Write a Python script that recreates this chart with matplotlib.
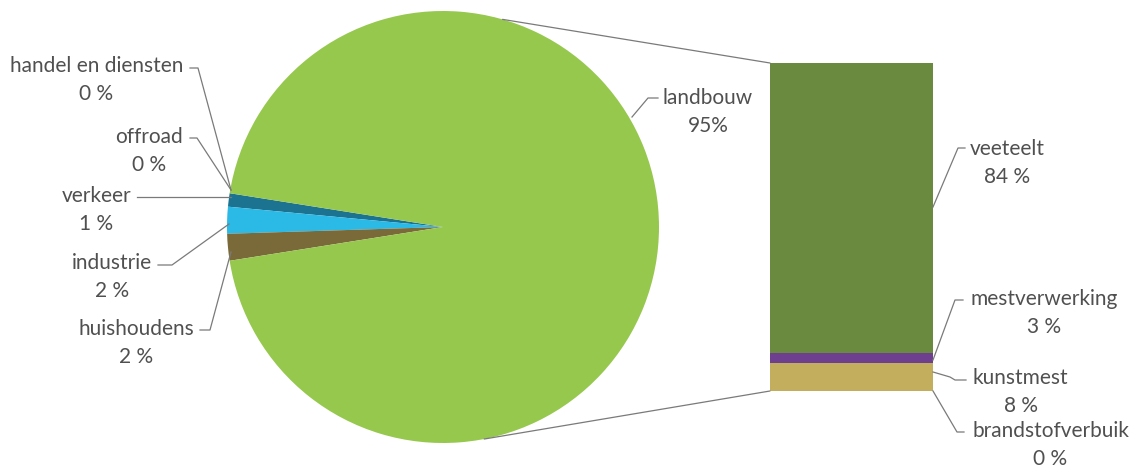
import matplotlib.pyplot as plt
from matplotlib.patches import ConnectionPatch
import numpy as np

plt.rcParams['font.family'] = ['Lato', 'DejaVu Sans']

# pie: share of each sector (%), drawn counterclockwise from the left
sectors = ['handel en diensten', 'offroad', 'verkeer', 'industrie', 'huishoudens', 'landbouw']
sector_pct = [0, 0, 1, 2, 2, 95]
sector_colors = ['#1c7391', '#1c7391', '#1c7391', '#2bb9e6', '#7a6a3a', '#96c84d']

# bar: breakdown of landbouw, bottom to top
farm_parts = ['brandstofverbuik', 'kunstmest', 'mestverwerking', 'veeteelt']
farm_pct = [0, 8, 3, 84]
farm_colors = ['#7a6a35', '#c2ae5d', '#6e3f8e', '#6a8a40']

W, H = 1135, 470
fig = plt.figure(figsize=(W / 100, H / 100), dpi=100)

# pie axes, 432 px square centred at (443, 227)
ax_pie = fig.add_axes([227 / W, 27 / H, 432 / W, 432 / H])
small = sum(sector_pct[:-1])
ax_pie.pie(sector_pct, colors=sector_colors, startangle=180 - small * 3.6 / 2,
           counterclock=True, wedgeprops=dict(linewidth=0))
ax_pie.set_xlim(-1, 1)
ax_pie.set_ylim(-1, 1)
ax_pie.axis('off')

# stacked bar axes
ax_bar = fig.add_axes([770 / W, 79 / H, 163 / W, 328 / H])
bottom = 0
for part, pct, col in zip(farm_parts, farm_pct, farm_colors):
    if pct == 0:
        ax_bar.bar(0, pct, width=1, bottom=bottom, color=col, edgecolor=col, linewidth=2)
    else:
        ax_bar.bar(0, pct, width=1, bottom=bottom, color=col, linewidth=0)
    bottom += pct
ax_bar.set_xlim(-0.5, 0.5)
ax_bar.set_ylim(0, sum(farm_pct))
ax_bar.axis('off')

# lines from the pie edge to the bar corners
for ang, yb in [(74, sum(farm_pct)), (-79, 0)]:
    a = np.deg2rad(ang)
    con = ConnectionPatch(xyA=(np.cos(a), np.sin(a)), coordsA=ax_pie.transData,
                          xyB=(-0.5, yb), coordsB=ax_bar.transData,
                          color='#7a7a7a', linewidth=0.9)
    fig.add_artist(con)

# overlay in pixel coords for labels and leader lines
ov = fig.add_axes([0, 0, 1, 1], zorder=5)
ov.set_xlim(0, W)
ov.set_ylim(H, 0)
ov.axis('off')
ov.patch.set_alpha(0)

labels = [
    ('handel en diensten', 0, 183, 67, 'right', [(190, 68), (198, 68), (231, 190)]),
    ('offroad', 0, 183, 138, 'right', [(190, 138), (197, 138), (231, 190)]),
    ('verkeer', 1, 131, 197, 'right', [(137, 197), (231, 197)]),
    ('industrie', 2, 152, 264, 'right', [(158, 265), (172, 265), (229, 224)]),
    ('huishoudens', 2, 194, 330, 'right', [(200, 330), (210, 330), (231, 252)]),
    ('landbouw', 95, 663, 99, 'left', [(658, 98), (648, 98), (632, 117)]),
    ('veeteelt', 84, 970, 150, 'left', [(933, 207), (958, 148), (965, 148)]),
    ('mestverwerking', 3, 970, 300, 'left', [(933, 360), (955, 300), (963, 300)]),
    ('kunstmest', 8, 973, 379, 'left', [(933, 372), (950, 377), (955, 380), (966, 380)]),
    ('brandstofverbuik', 0, 972, 432, 'left', [(933, 391), (957, 432), (964, 432)]),
]
for name, pct, x, y, ha, pts in labels:
    val = f'{pct}%' if name == 'landbouw' else f'{pct} %'
    ov.text(x, y - 11, f'{name}\n{val}', ha=ha, va='top', multialignment='center',
            fontsize=15, color='#505050', linespacing=1.5)
    xs, ys = zip(*pts)
    ov.plot(xs, ys, color='#7a7a7a', linewidth=0.9)

fig.savefig('out.png', dpi=100, facecolor='white')
